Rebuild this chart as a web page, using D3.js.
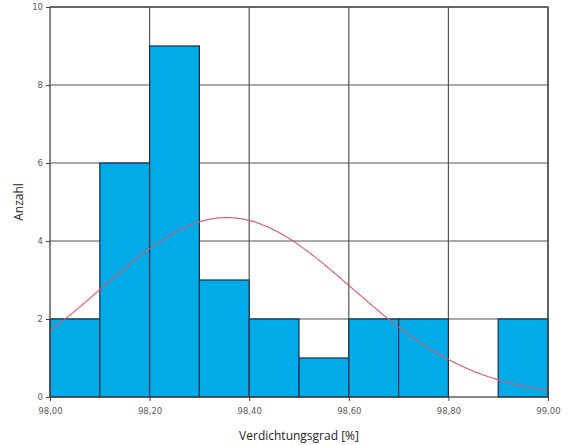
<!DOCTYPE html>
<html>
<head>
<meta charset="utf-8">
<script src="https://cdn.jsdelivr.net/npm/d3@7"></script>
<style>
  html, body { margin: 0; padding: 0; background: #fff; }
  svg { display: block; }
  .tick text { font-family: "DejaVu Sans", sans-serif; font-size: 8.5px; fill: #5a5a5a; }
  .title { font-family: "Open Sans", "DejaVu Sans", sans-serif; font-size: 12px; fill: #222; }
</style>
</head>
<body>
<svg id="chart" width="569" height="445"></svg>
<script>
// Histogram bins (lower edge) and counts
const binStarts = [98.0, 98.1, 98.2, 98.3, 98.4, 98.5, 98.6, 98.7, 98.8, 98.9];
const binWidth = 0.1;
const counts = [2, 6, 9, 3, 2, 1, 2, 2, 0, 2];

// Axis ticks
const xTicks = [98.0, 98.2, 98.4, 98.6, 98.8, 99.0];
const yTicks = [0, 2, 4, 6, 8, 10];

// Fitted normal distribution parameters
const fitMean = 98.355;
const fitSd = 0.2515;

const margin = { left: 50, right: 21, top: 7, bottom: 48 };
const width = 569, height = 445;

const svg = d3.select("#chart");

const x = d3.scaleLinear().domain([98.0, 99.0]).range([margin.left, width - margin.right]);
const y = d3.scaleLinear().domain([0, 10]).range([height - margin.bottom, margin.top]);

// Grid lines
const grid = svg.append("g").attr("stroke", "#555").attr("stroke-width", 1.2);
grid.selectAll("line.h").data(yTicks.slice(1)).join("line")
  .attr("x1", x(98.0)).attr("x2", x(99.0))
  .attr("y1", d => y(d)).attr("y2", d => y(d));
grid.selectAll("line.v").data(xTicks.slice(1)).join("line")
  .attr("x1", d => x(d)).attr("x2", d => x(d))
  .attr("y1", y(0)).attr("y2", y(10));

// Bars
svg.append("g").selectAll("rect").data(binStarts.map((s, i) => ({ s, c: counts[i] })).filter(d => d.c > 0))
  .join("rect")
  .attr("x", d => x(d.s))
  .attr("width", d => x(d.s + binWidth) - x(d.s))
  .attr("y", d => y(d.c))
  .attr("height", d => y(0) - y(d.c))
  .attr("fill", "#00abe8")
  .attr("stroke", "#1b2b4e")
  .attr("stroke-width", 1.2);

// Normal curve scaled to counts
const total = d3.sum(counts);
const curvePts = d3.range(0, 201).map(i => 98.0 + i * 0.005);
const density = v => total * binWidth / (fitSd * Math.sqrt(2 * Math.PI)) *
  Math.exp(-0.5 * Math.pow((v - fitMean) / fitSd, 2));
svg.append("path")
  .datum(curvePts)
  .attr("fill", "none")
  .attr("stroke", "#e0566c")
  .attr("stroke-width", 1.1)
  .attr("d", d3.line().x(d => x(d)).y(d => y(density(d))));

// Frame
svg.append("rect")
  .attr("x", x(98.0)).attr("y", y(10))
  .attr("width", x(99.0) - x(98.0)).attr("height", y(0) - y(10))
  .attr("fill", "none").attr("stroke", "#444").attr("stroke-width", 1.3);

// Axes
const fmt = d => d.toFixed(2).replace(".", ",");
const xAxis = svg.append("g")
  .attr("transform", `translate(0,${y(0)})`)
  .call(d3.axisBottom(x).tickValues(xTicks).tickFormat(fmt).tickSize(4).tickPadding(7));
const yAxis = svg.append("g")
  .attr("transform", `translate(${x(98.0)},0)`)
  .call(d3.axisLeft(y).tickValues(yTicks).tickFormat(d3.format("d")).tickSize(4).tickPadding(3));
[xAxis, yAxis].forEach(a => {
  a.select(".domain").remove();
  a.selectAll(".tick line").attr("stroke", "#444");
});

// Axis titles
svg.append("text").attr("class", "title")
  .attr("x", (x(98.0) + x(99.0)) / 2).attr("y", 440)
  .attr("text-anchor", "middle").text("Verdichtungsgrad [%]");
svg.append("text").attr("class", "title")
  .attr("transform", `translate(23,${(y(0) + y(10)) / 2}) rotate(-90)`)
  .attr("text-anchor", "middle").text("Anzahl");
</script>
</body>
</html>
